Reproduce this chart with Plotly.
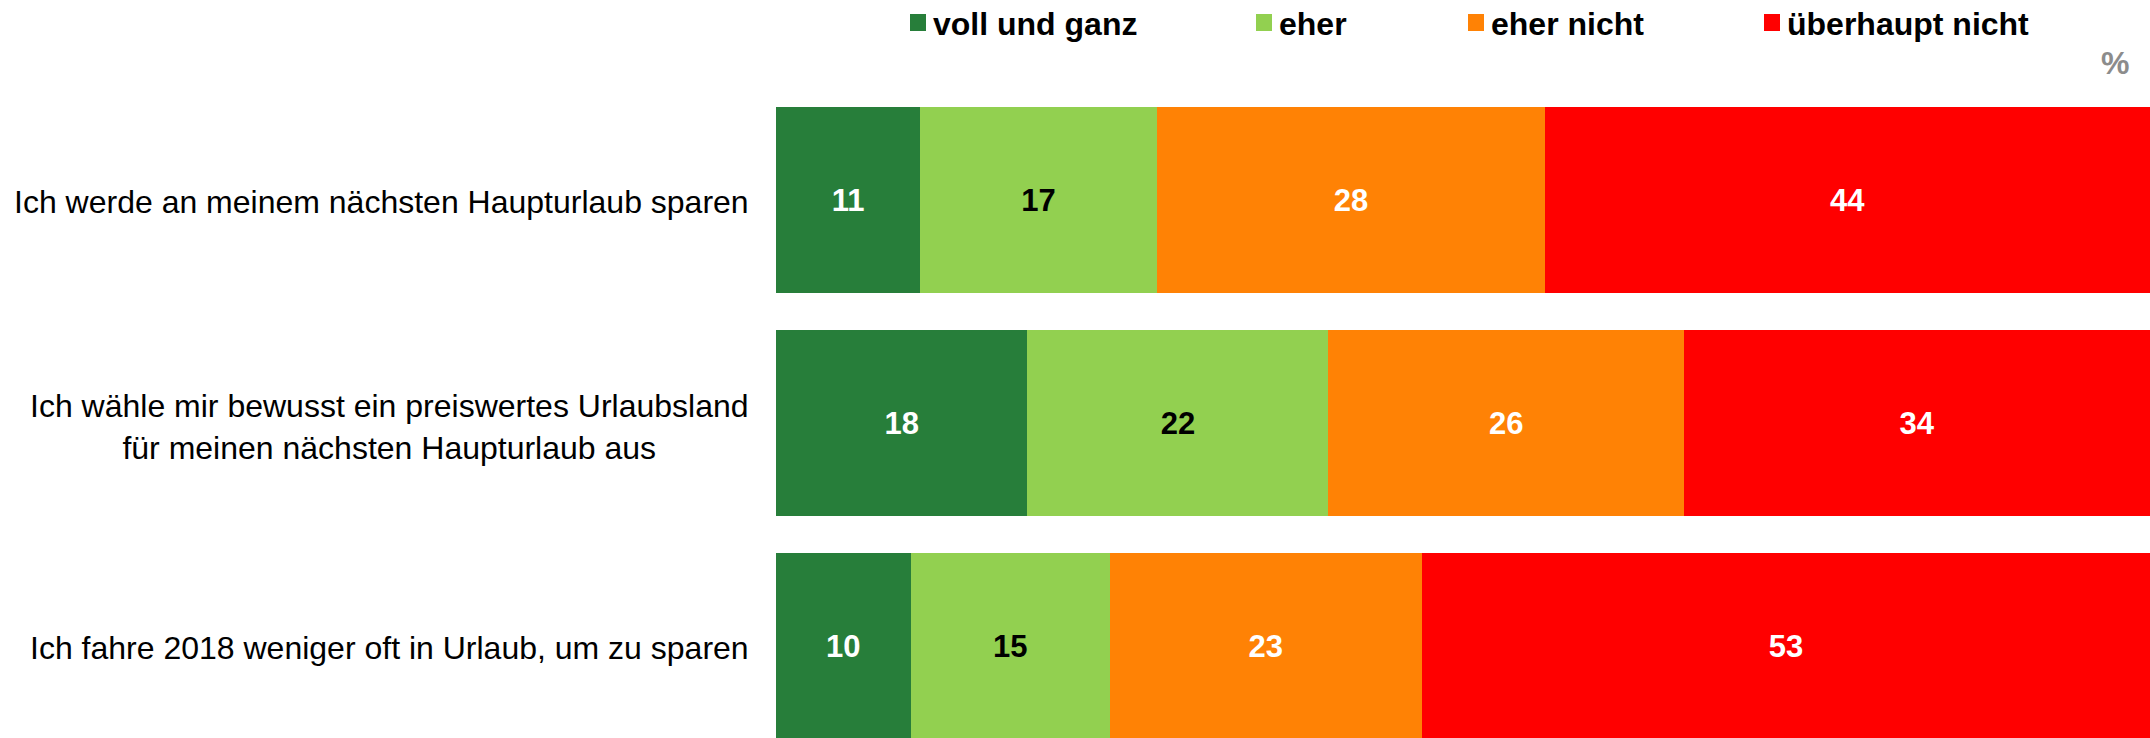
import plotly.graph_objects as go

# ---------------- data ----------------
categories = [
    "Ich werde an meinem nächsten Haupturlaub sparen",
    "Ich wähle mir bewusst ein preiswertes Urlaubsland<br>für meinen nächsten Haupturlaub aus",
    "Ich fahre 2018 weniger oft in Urlaub, um zu sparen",
]
series_names = ["voll und ganz", "eher", "eher nicht", "überhaupt nicht"]
voll_und_ganz = [10.5, 18.3, 9.8]
eher = [17.2, 21.9, 14.5]
eher_nicht = [28.3, 25.9, 22.7]
ueberhaupt_nicht = [44.0, 33.9, 53.0]
label_voll_und_ganz = [11, 18, 10]
label_eher = [17, 22, 15]
label_eher_nicht = [28, 26, 23]
label_ueberhaupt_nicht = [44, 34, 53]

# ---------------- styling ----------------
colors = ["#277E3A", "#92D050", "#FF8205", "#FF0000"]
text_colors = ["white", "black", "white", "white"]
FONT = "Liberation Sans, Arial, sans-serif"
FS_CAT = 32
FS_LEG = 32
FS_VAL = 31

W, H = 2150, 738
L, R, T, B = 776, 0, 80, 0
ppu = 223.0          # pixels per category slot
first_center = 200.0  # pixel y of first bar centre
y_top = -(first_center - T) / ppu
y_bot = y_top + (H - T - B) / ppu

ypos = list(range(len(categories)))
values = [voll_und_ganz, eher, eher_nicht, ueberhaupt_nicht]
labels = [label_voll_und_ganz, label_eher, label_eher_nicht, label_ueberhaupt_nicht]

fig = go.Figure()
for name, vals, labs, col, tcol in zip(series_names, values, labels, colors, text_colors):
    fig.add_trace(go.Bar(
        y=ypos, x=vals, orientation="h", name=name,
        marker=dict(color=col, line=dict(width=0)),
        width=0.835,
        text=[str(v) for v in labs],
        textposition="inside", insidetextanchor="middle",
        textangle=0, constraintext="none",
        textfont=dict(family=FONT, size=FS_VAL, color=tcol, weight="bold"),
        showlegend=False,
    ))

fig.update_layout(
    barmode="stack",
    width=W, height=H,
    margin=dict(l=L, r=R, t=T, b=B, pad=0),
    paper_bgcolor="white", plot_bgcolor="white",
    font=dict(family=FONT, size=FS_CAT, color="black"),
    xaxis=dict(range=[0, 100], visible=False, fixedrange=True),
    yaxis=dict(range=[y_bot, y_top], visible=False, fixedrange=True),
    showlegend=False,
)

plot_w = W - L - R
plot_h = H - T - B


def px_x(px):
    return (px - L) / plot_w


def px_y(py):
    return 1 - (py - T) / plot_h


annotations = []
# category labels (centered lines, right-aligned block)
cat_yshift = [-2, -4, -2]
for yi, cat, ys in zip(ypos, categories, cat_yshift):
    annotations.append(dict(
        x=0, xref="paper", y=yi, yref="y", text=cat, showarrow=False,
        xanchor="right", yanchor="middle", align="center", xshift=-25, yshift=ys,
        font=dict(family=FONT, size=FS_CAT, color="black"),
    ))

# legend (manual, to match spacing)
legend_sq_x = [910, 1256, 1468, 1764]
sq_w, sq_top, sq_bot = 16, 14, 31
shapes = []
for name, col, sx in zip(series_names, colors, legend_sq_x):
    shapes.append(dict(
        type="rect", xref="paper", yref="paper",
        x0=px_x(sx), x1=px_x(sx + sq_w), y0=px_y(sq_bot), y1=px_y(sq_top),
        fillcolor=col, line=dict(width=0),
    ))
    annotations.append(dict(
        x=px_x(sx + sq_w + 5), xref="paper", y=px_y(24), yref="paper",
        text="<b>" + name + "</b>", showarrow=False,
        xanchor="left", yanchor="middle",
        font=dict(family=FONT, size=FS_LEG, color="black"),
    ))

annotations.append(dict(
    x=px_x(2131), xref="paper", y=px_y(63), yref="paper",
    text="<b>%</b>", showarrow=False, xanchor="right", yanchor="middle",
    font=dict(family=FONT, size=FS_LEG, color="#8C8C8C"),
))

fig.update_layout(annotations=annotations, shapes=shapes)
fig.write_html(
    "out.html",
    config={"displayModeBar": False, "staticPlot": True},
    post_script="document.body.style.margin='0';document.body.style.overflow='hidden';",
)
